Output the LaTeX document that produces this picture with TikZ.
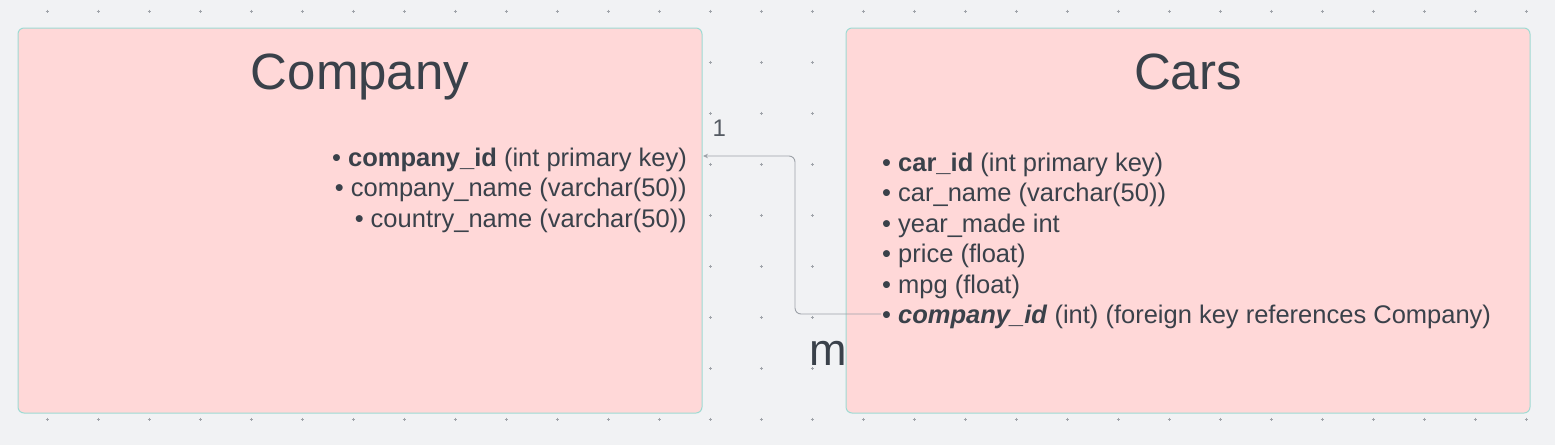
\documentclass[tikz,border=0pt]{standalone}
\usepackage{fontspec}
\setmainfont{Liberation Sans}
\usetikzlibrary{arrows.meta}
\definecolor{bgc}{HTML}{F1F2F4}
\definecolor{boxfill}{HTML}{FFD8D8}
\definecolor{boxline}{HTML}{9EDBD3}
\definecolor{txt}{HTML}{3A414A}
\definecolor{lbl}{HTML}{555B63}
\definecolor{conncol}{HTML}{9DA2A8}
\definecolor{dotc}{HTML}{A0A4AA}
\tikzset{
  entity/.style={draw=boxline, line width=1pt, fill=boxfill, rounded corners=6pt,
    minimum width=684pt, minimum height=385pt, inner sep=0pt},
  titletext/.style={inner sep=0pt, anchor=base, text=txt, font=\fontsize{51}{60}\selectfont},
  attr/.style={inner sep=0pt, text=txt, font=\fontsize{25.5}{30}\selectfont},
  conn/.style={draw=conncol, line width=0.9pt, rounded corners=6pt,
    -{Stealth[length=5pt,width=4.5pt]}},
  card/.style={inner sep=0pt, anchor=base west}
}
\begin{document}
\begin{tikzpicture}[x=1pt,y=-1pt]
\useasboundingbox[fill=bgc] (0,0) rectangle (1555,445);
% grid marks
\foreach \i in {0,...,29}{
  \foreach \j in {0,...,8}{
    \pgfmathsetmacro{\gx}{47.3+51*\i}
    \pgfmathsetmacro{\gy}{11.3+51*\j}
    \draw[dotc, line width=0.5pt] (\gx-1.6,\gy) -- (\gx+1.6,\gy) (\gx,\gy-1.6) -- (\gx,\gy+1.6);
  }
}
% entities
\node[entity] (company) at (360,220.5) {};
\node[entity] (cars) at (1188,220.5) {};
\node[titletext] (companyT) at (360,89) {Company};
\node[titletext] (carsT) at (1188,89) {Cars};
% company attributes
\node[attr, anchor=base east] (c1) at (687,166) {• \textbf{company\_id} (int primary key)};
\node[attr, anchor=base east] (c2) at (687,196.5) {• company\_name (varchar(50))};
\node[attr, anchor=base east] (c3) at (687,227) {• country\_name (varchar(50))};
% cars attributes
\node[attr, anchor=base west] (k1) at (882,171) {• \textbf{car\_id} (int primary key)};
\node[attr, anchor=base west] (k2) at (882,201.5) {• car\_name (varchar(50))};
\node[attr, anchor=base west] (k3) at (882,232) {• year\_made int};
\node[attr, anchor=base west] (k4) at (882,262.5) {• price (float)};
\node[attr, anchor=base west] (k5) at (882,293) {• mpg (float)};
\node[attr, anchor=base west] (k6) at (882,323.5) {• \textbf{\textit{company\_id}} (int) (foreign key references Company)};
% connector
\coordinate (fk) at (881,314);
\coordinate (pk) at (703,156);
\coordinate (bend) at (795,0);
\draw[conn] (fk) -| (bend |- pk) -- (pk);
% cardinalities
\node[card, text=lbl, font=\fontsize{24}{28}\selectfont] (one) at (712.5,136.5) {1};
\node[card, text=txt, font=\fontsize{45}{52}\selectfont] (many) at (809,365.5) {m};
\end{tikzpicture}
\end{document}
